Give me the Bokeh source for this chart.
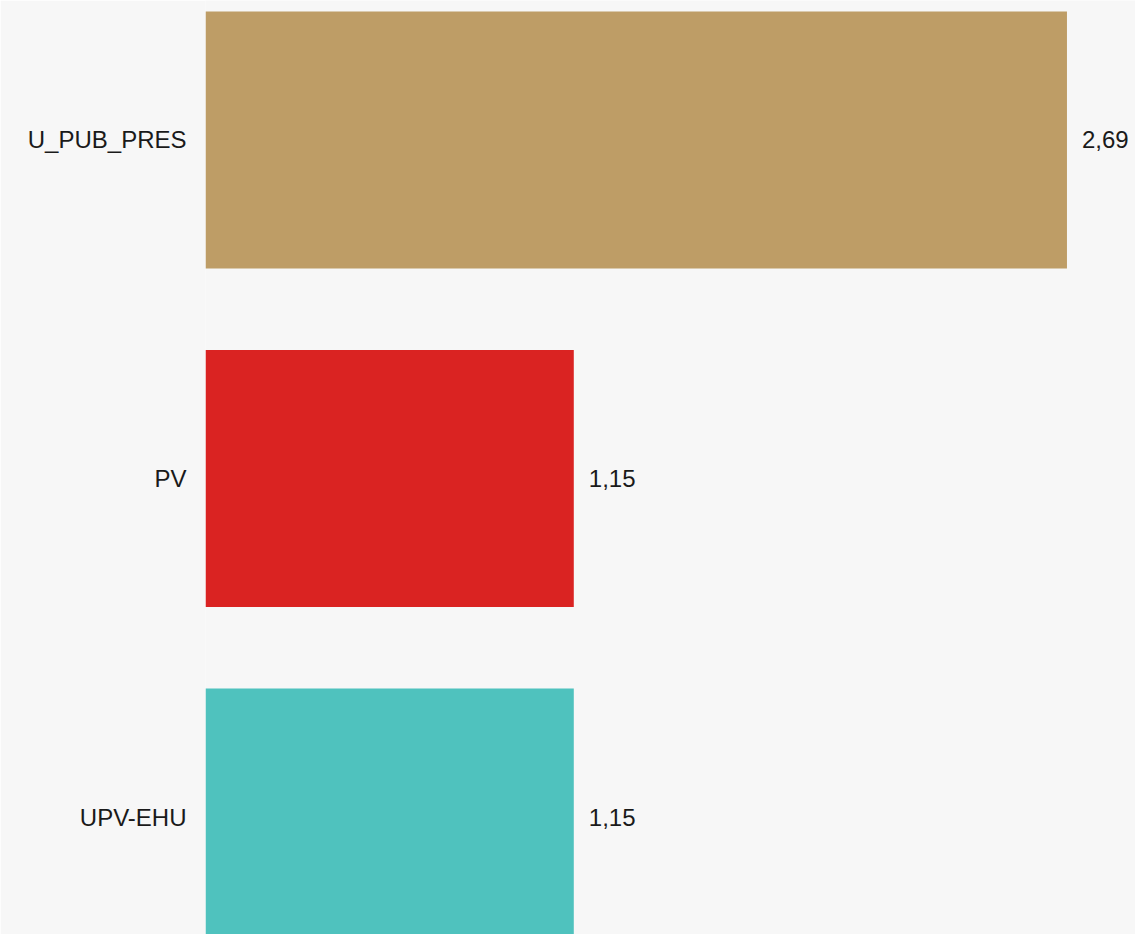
from bokeh.plotting import figure
from bokeh.models import ColumnDataSource, Range1d, LabelSet, FixedTicker
from bokeh.core.properties import value
from bokeh.embed import file_html
from bokeh.resources import INLINE

categories = ["U_PUB_PRES", "PV", "UPV-EHU"]
values = [2.69, 1.15, 1.15]
colors = ["#BE9D66", "#DA2322", "#4FC2BE"]
labels = [f"{v:.2f}".replace(".", ",") for v in values]
positions = list(range(len(categories)))

src = ColumnDataSource(dict(y=positions, x=values, color=colors, label=labels, cat=categories))

p = figure(width=1135, height=934, output_backend="svg", toolbar_location=None,
           x_range=Range1d(0, 2.904), y_range=Range1d(2.347, -0.412),
           min_border_left=205, min_border_right=0, min_border_top=0, min_border_bottom=0)
p.background_fill_color = "#F7F7F7"
p.border_fill_color = "#F7F7F7"
p.outline_line_color = None
p.xgrid.visible = False
p.ygrid.visible = False
p.xaxis.visible = False

p.hbar(y="y", right="x", left=0, height=0.759, color="color", line_color=None, source=src)

p.add_layout(LabelSet(x="x", y="y", text="label", source=src, x_offset=15,
                      text_baseline="middle", text_align="left",
                      text_font=value("Liberation Sans"), text_font_size="24px",
                      text_color="#1a1a1a"))

ax = p.yaxis[0]
ax.ticker = FixedTicker(ticks=positions)
ax.major_label_overrides = {i: c for i, c in zip(positions, categories)}
ax.axis_line_color = None
ax.major_tick_line_color = None
ax.minor_tick_line_color = None
ax.major_tick_out = 0
ax.major_tick_in = 0
ax.major_label_standoff = 19
ax.major_label_text_font = "Liberation Sans"
ax.major_label_text_font_size = "24px"
ax.major_label_text_color = "#1a1a1a"

open("out.html", "w").write(file_html(p, INLINE))
